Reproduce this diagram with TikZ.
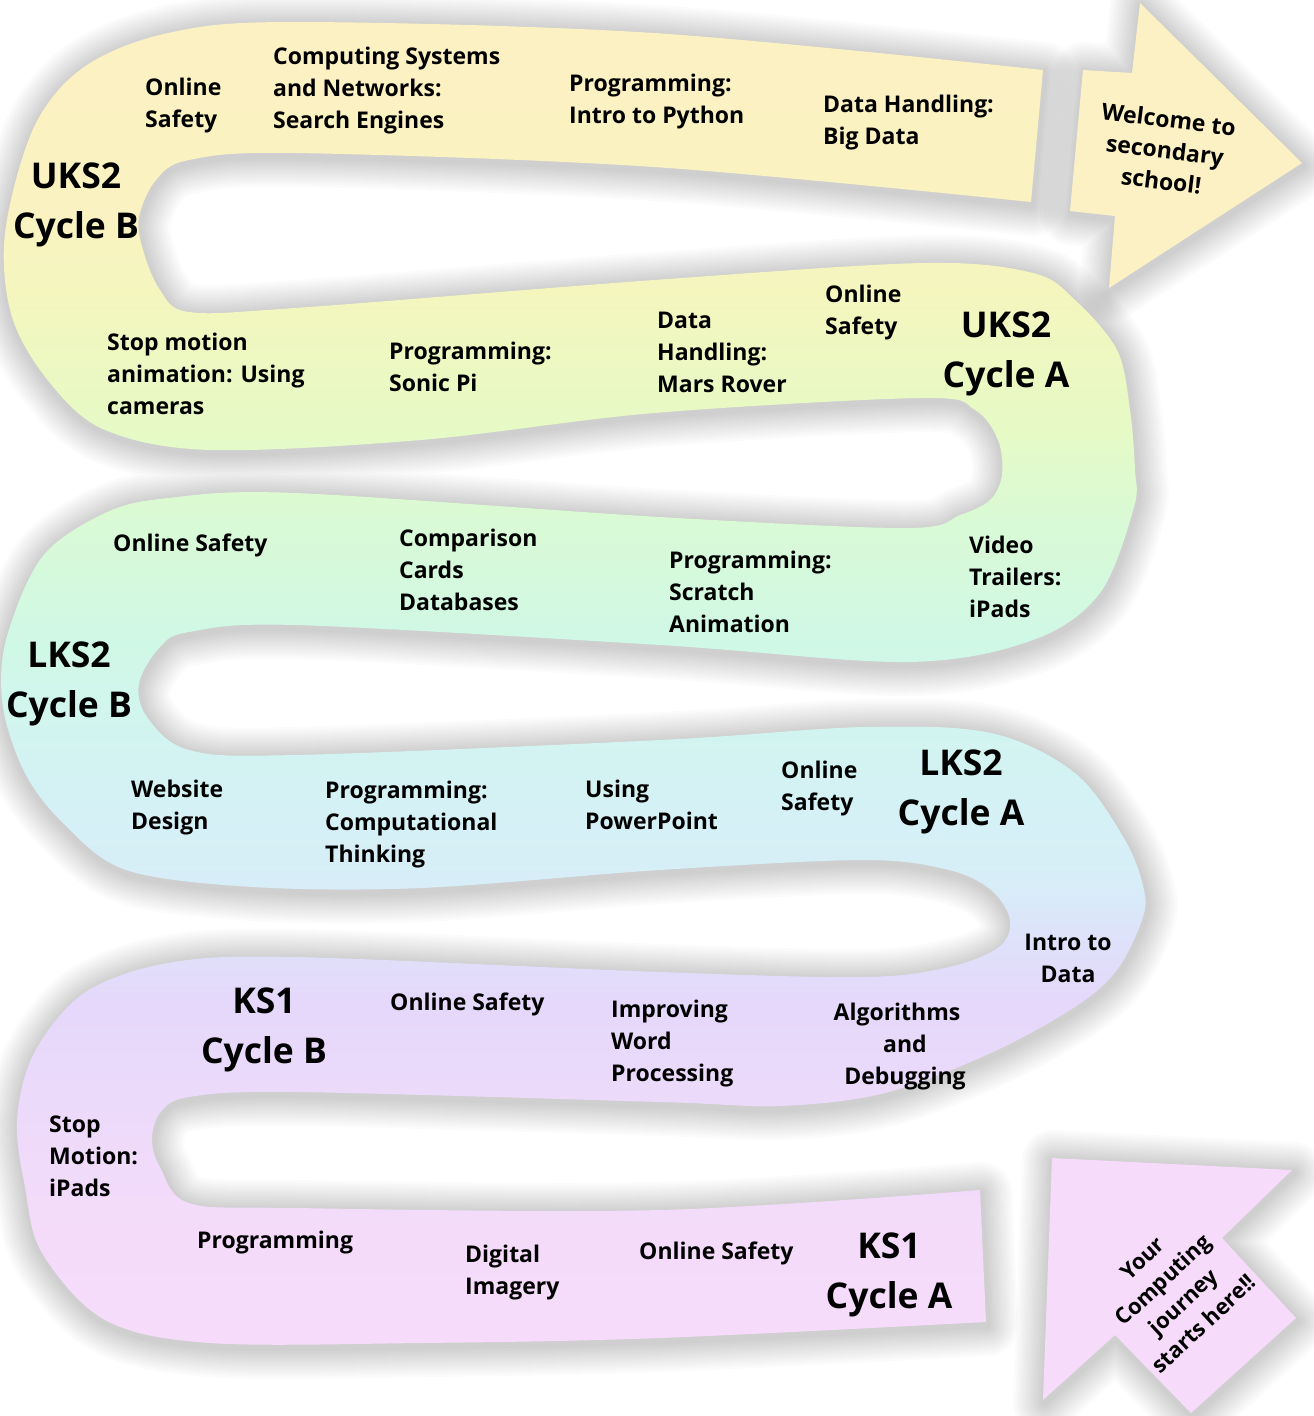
\documentclass[tikz,border=0pt]{standalone}
\usepackage{fontspec}
\setmainfont{Open Sans}
\definecolor{r1}{HTML}{FCF1C3}
\definecolor{r2}{HTML}{FBF2C2}
\definecolor{r3}{HTML}{F3F6BE}
\definecolor{r4}{HTML}{E6FAC6}
\definecolor{r5}{HTML}{DAFAD4}
\definecolor{r6}{HTML}{D0F8E6}
\definecolor{r7}{HTML}{D3F3F3}
\definecolor{r8}{HTML}{D7EEF8}
\definecolor{r9}{HTML}{DEE2FA}
\definecolor{r10}{HTML}{E5D8FA}
\definecolor{r11}{HTML}{ECDAFA}
\definecolor{r12}{HTML}{F3DBFA}
\definecolor{r13}{HTML}{F6DCFA}
\definecolor{toparrow}{HTML}{FCF1C4}
\definecolor{botarrow}{HTML}{F6DCFA}
\pgfdeclareverticalshading{roadshade}{100bp}{color(0bp)=(r13); color(25bp)=(r13); color(30.44bp)=(r12); color(34.22bp)=(r11); color(38bp)=(r10); color(40.46bp)=(r9); color(42.54bp)=(r8); color(47.07bp)=(r7); color(51.61bp)=(r6); color(56.52bp)=(r5); color(59.54bp)=(r4); color(64.46bp)=(r3); color(68.23bp)=(r2); color(75bp)=(r1); color(100bp)=(r1)}
\newcommand{\roadpath}{plot[smooth,tension=0.55] coordinates {(1043,70) (654,33) (295,22) (168,33) (84,67) (34,127) (5,233) (12,317) (50,383) (105,430) (210,450) (421,440) (654,413) (923,398) (975,410) (998,440) (1002,475) (990,500) (960,515) (907,528) (660,517) (295,493) (168,498) (105,513) (42,557) (6,640) (3,707) (25,773) (63,823) (126,870) (253,887) (421,888) (660,870) (864,860) (949,870) (991,890) (1010,920) (999,947) (949,967) (864,977) (660,972) (295,957) (168,963) (84,993) (34,1053) (17,1120) (25,1187) (42,1253) (105,1320) (210,1343) (421,1343) (660,1338) (986,1322)} -- plot[smooth,tension=0.55] coordinates {(980,1190) (660,1210) (295,1208) (189,1203) (160,1167) (152,1140) (160,1113) (189,1097) (295,1092) (660,1102) (780,1106) (885,1093) (991,1053) (1075,1007) (1117,970) (1142,920) (1144,890) (1125,840) (1075,773) (991,733) (864,727) (660,740) (295,755) (189,750) (147,717) (139,683) (160,647) (189,632) (295,625) (660,645) (907,662) (1033,640) (1100,593) (1134,507) (1135,470) (1130,410) (1117,350) (1075,300) (1033,273) (923,263) (654,280) (295,308) (189,312) (160,290) (143,250) (139,217) (156,180) (189,160) (295,153) (654,167) (1031,202)} -- cycle}
\newcommand{\toparrowpath}{(1083,70) -- (1132,73) -- (1140,3) -- (1302,163) -- (1109,288) -- (1115,216) -- (1070,211) -- cycle}
\newcommand{\botarrowpath}{(1052,1158) -- (1292,1170) -- (1222,1238) -- (1296,1318) -- (1191,1413) -- (1115,1335) -- (1043,1400) -- cycle}
\newcommand{\halo}[1]{\begin{scope}[shift={(1,3)}]\foreach \w in {62,57,52,47,42,37,32,27,22,17,12,7}{\draw[line width=\w pt, line join=round, black, opacity=0.0165] #1;}\end{scope}}
\tikzset{
  lbl/.style={font=\bfseries\fontsize{23}{32}\selectfont, align=left, anchor=west, inner sep=0pt},
  lblc/.style={font=\bfseries\fontsize{23}{32}\selectfont, align=center, anchor=center, inner sep=0pt},
  big/.style={font=\bfseries\fontsize{35.5}{50}\selectfont, align=center, anchor=center, inner sep=0pt},
  arrowtxt/.style={font=\bfseries\fontsize{22}{30}\selectfont, align=center, anchor=center, inner sep=0pt}
}
\begin{document}
\begin{tikzpicture}[x=1pt,y=-1pt]
\useasboundingbox (0,0) rectangle (1314,1416);
\fill[white] (0,0) rectangle (1314,1416);
% shadows
\halo{\roadpath}
\halo{\toparrowpath}
\halo{\botarrowpath}
% shapes
\shade[shading=roadshade] \roadpath;
\fill[toparrow] \toparrowpath;
\fill[botarrow] \botarrowpath;
% Row 1: UKS2 Cycle B
\node[big] (uks2b) at (76,205) {UKS2\\Cycle B};
\node[lbl] (os1) at (145,106) {Online\\Safety};
\node[lbl] (csn) at (273,91) {Computing Systems\\and Networks:\\Search Engines};
\node[lbl] (py) at (569,102) {Programming:\\Intro to Python};
\node[lbl] (bd) at (823,123) {Data Handling:\\Big Data};
\node[lblc, rotate=-7, font=\bfseries\fontsize{23}{31}\selectfont] (welcome) at (1165,150) {Welcome to\\secondary\\school!};
% Row 2: UKS2 Cycle A
\node[lbl] (smc) at (107,374) {Stop motion\\animation: Using\\cameras};
\node[lbl] (sp) at (389,367) {Programming:\\Sonic Pi};
\node[lbl] (mr) at (657,352) {Data\\Handling:\\Mars Rover};
\node[lbl] (os2) at (825,313) {Online\\Safety};
\node[big] (uks2a) at (1006,354) {UKS2\\Cycle A};
% Row 3: LKS2 Cycle B
\node[big] (lks2b) at (69,684) {LKS2\\Cycle B};
\node[lbl] (os3) at (113,545) {Online Safety};
\node[lbl] (ccd) at (399,570) {Comparison\\Cards\\Databases};
\node[lbl] (psa) at (669,592) {Programming:\\Scratch\\Animation};
\node[lbl] (vt) at (969,577) {Video\\Trailers:\\iPads};
% Row 4: LKS2 Cycle A
\node[lbl] (wd) at (131,808) {Website\\Design};
\node[lbl] (pct) at (325,825) {Programming:\\Computational\\Thinking};
\node[lbl] (upp) at (585,805) {Using\\PowerPoint};
\node[lbl] (os4) at (781,789) {Online\\Safety};
\node[big] (lks2a) at (961,792) {LKS2\\Cycle A};
\node[lblc] (itd) at (1068,958) {Intro to\\Data};
% Row 5: KS1 Cycle B
\node[big] (ks1b) at (264,1030) {KS1\\Cycle B};
\node[lbl] (os5) at (390,1004) {Online Safety};
\node[lbl] (iwp) at (611,1044) {Improving\\Word\\Processing};
\node[lblc] (aad) at (905,1047) {Algorithms\hspace*{16pt}\\and\\Debugging};
\node[lbl] (smi) at (49,1156) {Stop\\Motion:\\iPads};
% Row 6: KS1 Cycle A
\node[lbl] (prog) at (197,1243) {Programming};
\node[lbl] (di) at (465,1273) {Digital\\Imagery};
\node[lbl] (os6) at (639,1253) {Online Safety};
\node[big] (ks1a) at (889,1275) {KS1\\Cycle A};
\node[arrowtxt, rotate=43] (start) at (1173,1291) {Your\\Computing\\journey\\starts here!!};
\end{tikzpicture}
\end{document}
